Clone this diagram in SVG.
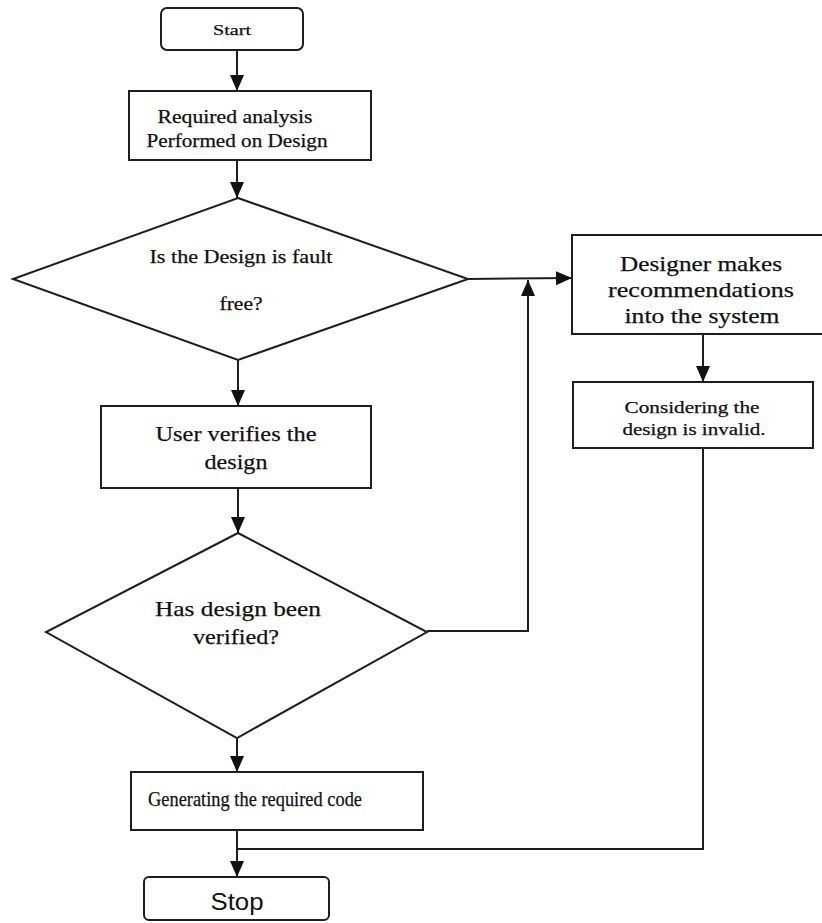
<svg xmlns="http://www.w3.org/2000/svg" width="822" height="923" viewBox="0 0 822 923">
  <style>
    .box { fill: #ffffff; stroke: #1e1e1e; stroke-width: 2; }
    .link { fill: none; stroke: #1e1e1e; stroke-width: 2; }
    .lbl { font-family: "Liberation Serif", "Times New Roman", serif; font-size: 20px; fill: #111111; text-anchor: middle; stroke: #111111; stroke-width: 0.25; }
    .big { font-size: 22px; }
    .mid { font-size: 18px; }
    .small { font-size: 17px; }
    .sans { font-family: "Liberation Sans", Arial, sans-serif; font-size: 24px; stroke: none; }
  </style>
  <defs>
    <marker id="arrow" markerUnits="userSpaceOnUse" markerWidth="16" markerHeight="16" viewBox="0 0 16 16" refX="16" refY="8" orient="auto">
      <path d="M0,1 L16,8 L0,15 Z" fill="#111111"/>
    </marker>
  </defs>
  <rect width="822" height="923" fill="#ffffff"/>

  <!-- connectors -->
  <g id="connectors">
    <line class="link" x1="237" y1="50" x2="237" y2="91" marker-end="url(#arrow)"/>
    <line class="link" x1="237" y1="160" x2="237" y2="198" marker-end="url(#arrow)"/>
    <line class="link" x1="238" y1="360" x2="238" y2="406" marker-end="url(#arrow)"/>
    <line class="link" x1="238" y1="488" x2="238" y2="533" marker-end="url(#arrow)"/>
    <line class="link" x1="237" y1="738" x2="237" y2="772" marker-end="url(#arrow)"/>
    <line class="link" x1="468" y1="279" x2="572" y2="278" marker-end="url(#arrow)"/>
    <polyline class="link" points="427,631 528,631 528,280" marker-end="url(#arrow)"/>
    <line class="link" x1="703" y1="334" x2="703" y2="382" marker-end="url(#arrow)"/>
    <polyline class="link" points="703,448 703,849 237,849"/>
    <line class="link" x1="237" y1="830" x2="237" y2="877" marker-end="url(#arrow)"/>
  </g>

  <!-- nodes -->
  <g id="start">
    <rect class="box" x="161" y="8" width="142" height="42" rx="6"/>
    <text class="lbl" x="232" y="35" style="font-size:15px" textLength="38" lengthAdjust="spacingAndGlyphs">Start</text>
  </g>

  <g id="analysis">
    <rect class="box" x="129" y="91" width="242" height="69"/>
    <text class="lbl mid" x="235" y="123" textLength="155" lengthAdjust="spacingAndGlyphs">Required analysis</text>
    <text class="lbl mid" x="237" y="147" textLength="181" lengthAdjust="spacingAndGlyphs">Performed on Design</text>
  </g>

  <g id="fault-free">
    <polygon class="box" points="238,198 468,279 238,360 13,279"/>
    <text class="lbl mid" x="241" y="263" textLength="183" lengthAdjust="spacingAndGlyphs">Is the Design is fault</text>
    <text class="lbl mid" x="241" y="310" textLength="43" lengthAdjust="spacingAndGlyphs">free?</text>
  </g>

  <g id="user-verifies">
    <rect class="box" x="101" y="406" width="270" height="82"/>
    <text class="lbl big" x="236" y="441" textLength="161" lengthAdjust="spacingAndGlyphs">User verifies the</text>
    <text class="lbl big" x="236" y="469" textLength="63" lengthAdjust="spacingAndGlyphs">design</text>
  </g>

  <g id="verified">
    <polygon class="box" points="238,533 427,632 237,738 46,632"/>
    <text class="lbl big" x="238" y="616" textLength="166" lengthAdjust="spacingAndGlyphs">Has design been</text>
    <text class="lbl big" x="236" y="644" textLength="86" lengthAdjust="spacingAndGlyphs">verified?</text>
  </g>

  <g id="generate-code">
    <rect class="box" x="131" y="772" width="292" height="58"/>
    <text class="lbl big" x="255" y="806" textLength="214" lengthAdjust="spacingAndGlyphs">Generating the required code</text>
  </g>

  <g id="stop">
    <rect class="box" x="144" y="877" width="185" height="43" rx="5"/>
    <text class="lbl sans" x="237" y="910" textLength="53" lengthAdjust="spacingAndGlyphs">Stop</text>
  </g>

  <g id="recommendations">
    <rect class="box" x="572" y="235" width="262" height="99"/>
    <text class="lbl big" x="701" y="271" textLength="162" lengthAdjust="spacingAndGlyphs">Designer makes</text>
    <text class="lbl big" x="701" y="297" textLength="186" lengthAdjust="spacingAndGlyphs">recommendations</text>
    <text class="lbl big" x="702" y="323" textLength="155" lengthAdjust="spacingAndGlyphs">into the system</text>
  </g>

  <g id="invalid">
    <rect class="box" x="573" y="382" width="240" height="66"/>
    <text class="lbl small" x="692" y="413" textLength="135" lengthAdjust="spacingAndGlyphs">Considering the</text>
    <text class="lbl small" x="694" y="435" textLength="143" lengthAdjust="spacingAndGlyphs">design is invalid.</text>
  </g>
</svg>
